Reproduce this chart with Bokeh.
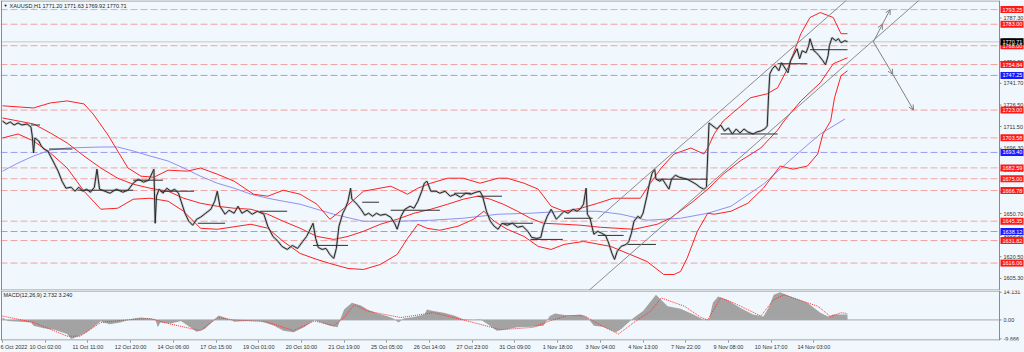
from bokeh.plotting import figure
from bokeh.models import (FixedTicker, Label, Arrow, OpenHead, ColumnDataSource, Range1d)
from bokeh.layouts import column
from bokeh.embed import file_html
from bokeh.resources import INLINE
from bokeh.core.properties import value

FONT = "Liberation Sans"
BG = "#F0F7FD"

# ---------------- data (x = hourly bar index, y = price) ----------------
price_bars = [0,3,6,9,12,15,19,22,23,24,25,28,30,32,35,39,43,46,49,53,56,59,62,65,68,71,73,75,79,83,
              88,93,97,101,105,109,113,117,118,119,121,124,127,130,133,136,138,141,144,147,150,153,157,161,164,166,168,172,175,179,
              182,185,189,193,197,202,205,209,213,216,220,224,228,232,235,237,240,242,244,247,250,253,256,258,260,263,265,267,269,270,
              274,277,280,283,286,289,292,296,300,303,305,308,311,315,318,321,324,326,328,331,335,338,342,346,350,354,358,362,366,369,
              371,374,377,380,383,386,390,394,398,402,406,409,413,416,418,421,424,426,428,431,434,437,441,444,447,449,451,452,454,457,
              460,463,466,468,471,473,475,478,482,484,486,488,491,493,495,498,500,502,504,505,508,510,512,515,517,520,523,526,529,532,
              536,539,542,544,546,549,552,555,558,561,564,567,570,573,576,580,583,586,589,591,592,593,595,597,600,602,604,607,609,611,
              614,616,618,621,623,624,627,629,631,634,636,638,639,641,644,646,648,651,653]
price_close = [1715.4,1713.3,1714.7,1712.6,1714.0,1712.6,1713.3,1711.2,1704.9,1693.0,1703.5,1701.4,1697.9,1695.8,1694.4,1687.4,1680.3,1673.3,1668.4,1669.1,
               1666.3,1669.1,1666.3,1667.7,1665.6,1669.1,1681.7,1667.7,1666.3,1664.9,1667.7,1665.6,1667.0,1671.9,1674.7,1672.6,1674.0,1681.7,1643.9,1662.8,
               1667.7,1664.9,1668.4,1666.3,1667.7,1664.9,1659.3,1650.9,1645.3,1642.5,1646.7,1648.1,1650.9,1653.7,1659.3,1666.3,1655.8,1650.2,1653.0,1650.9,
               1655.8,1650.9,1653.0,1650.2,1652.3,1650.2,1641.8,1634.7,1631.2,1627.7,1625.6,1628.4,1626.3,1631.2,1634.7,1638.3,1643.9,1633.3,1627.0,1625.6,
               1626.3,1622.1,1619.3,1626.3,1641.8,1650.9,1654.4,1659.3,1668.4,1660.7,1657.2,1653.7,1649.5,1650.9,1648.8,1650.9,1649.5,1650.2,1648.1,1643.9,
               1639.7,1648.8,1653.7,1655.8,1654.4,1659.3,1666.3,1671.9,1673.3,1666.3,1666.3,1664.9,1666.3,1662.8,1664.2,1662.1,1664.9,1664.2,1665.6,1666.3,
               1662.8,1652.3,1645.3,1641.8,1639.7,1643.9,1642.5,1643.9,1641.1,1641.8,1638.3,1634.0,1633.3,1634.0,1641.8,1648.8,1653.7,1650.2,1646.7,1649.5,
               1652.3,1650.9,1653.7,1652.3,1654.4,1657.2,1668.4,1650.2,1647.4,1636.2,1638.3,1636.9,1635.4,1631.2,1622.8,1618.6,1624.2,1627.7,1629.1,1631.2,
               1636.9,1645.3,1648.8,1647.4,1650.9,1662.8,1671.9,1678.9,1681.7,1674.7,1673.3,1674.7,1671.9,1667.7,1674.7,1677.5,1676.1,1675.4,1674.7,1673.3,
               1671.2,1669.1,1667.7,1669.1,1714.0,1711.9,1709.8,1712.6,1708.4,1710.5,1706.3,1709.8,1707.0,1709.8,1707.7,1706.3,1707.7,1708.4,1709.8,1711.9,
               1733.0,1748.4,1751.9,1754.0,1750.5,1756.1,1753.3,1749.1,1757.5,1761.0,1765.9,1758.9,1764.5,1763.1,1768.0,1772.9,1764.5,1763.1,1761.0,1757.5,
               1754.7,1761.0,1768.0,1773.6,1771.5,1772.9,1770.1,1771.5,1770.8]

seg_start = [22,36,58,101,122,151,199,240,278,300,349,367,387,408,434,460,483,506,555,599,624]
seg_end = [29,54,101,124,148,172,220,267,291,338,362,386,410,433,456,480,505,545,599,622,653]
seg_price = [1712.6,1695.8,1667.0,1674.0,1666.3,1643.9,1652.3,1628.4,1658.6,1653.0,1664.9,1662.8,
             1643.9,1632.6,1647.4,1635.4,1629.1,1674.7,1706.3,1755.4,1765.2]

bb_up_bars = [0,24,37,50,63,70,81,89,97,107,117,128,143,153,166,179,194,205,217,230,243,253,264,279,300,313,321,331,344,356,
              369,383,390,403,414,424,434,447,460,472,493,498,509,519,532,542,545,550,557,578,591,599,607,617,624,632,642,648,653]
bb_up = [1726.0,1724.5,1728.0,1729.4,1727.3,1720.3,1706.3,1694.4,1682.5,1676.8,1676.1,1681.0,1680.3,1682.5,1678.2,1673.3,1664.2,1662.8,1667.0,1664.2,
         1657.2,1646.7,1654.4,1666.3,1669.8,1664.2,1668.4,1671.9,1675.4,1675.4,1671.9,1675.4,1675.4,1671.9,1667.7,1655.8,1652.3,1654.4,1657.9,1661.4,
         1661.4,1668.4,1682.5,1692.3,1696.5,1692.3,1696.5,1706.3,1715.4,1731.6,1734.4,1738.6,1752.6,1776.4,1787.7,1791.2,1787.7,1776.4,1776.4]

bb_mid_bars = [0,24,37,50,63,76,89,101,114,128,140,153,166,179,192,205,217,230,243,256,267,279,292,305,318,331,344,356,367,377,
               387,398,408,418,434,447,462,488,506,516,532,545,557,570,586,599,604,617,632,642,653]
bb_mid = [1717.5,1713.3,1707.0,1700.0,1690.9,1682.5,1675.4,1671.2,1668.4,1666.3,1661.4,1657.9,1655.8,1654.4,1653.7,1650.2,1645.3,1640.4,1634.7,1632.6,
          1634.7,1638.3,1643.2,1646.7,1650.9,1653.7,1657.2,1660.7,1662.8,1660.7,1657.2,1652.3,1647.4,1643.9,1643.2,1642.5,1641.1,1639.7,1643.2,1647.4,
          1657.9,1667.7,1678.2,1687.4,1696.5,1709.0,1715.4,1729.4,1742.1,1755.4,1759.6]

bb_low_bars = [0,12,24,37,50,63,76,89,101,114,128,140,153,166,192,205,217,230,243,253,267,279,292,305,313,321,328,338,352,364,
               372,380,390,403,414,424,434,449,470,485,498,511,519,524,529,537,545,550,563,576,588,601,611,622,630,634,640,643,648,653]
bb_low = [1703.5,1706.3,1701.4,1693.0,1682.5,1666.3,1653.7,1654.4,1660.7,1661.4,1659.3,1652.3,1640.4,1639.7,1643.2,1640.4,1631.2,1622.8,1618.6,1615.8,
          1612.3,1611.6,1615.1,1622.1,1633.3,1643.2,1640.4,1639.0,1641.8,1646.7,1652.3,1645.3,1639.7,1634.7,1627.7,1625.6,1629.1,1631.2,1627.7,1622.1,
          1617.2,1608.1,1608.1,1610.2,1619.3,1638.3,1650.9,1650.2,1652.3,1657.9,1668.4,1683.9,1681.7,1683.9,1692.3,1706.3,1715.4,1731.6,1747.0,1750.5]

ma_bars = [0,12,24,37,50,76,89,101,114,128,140,153,166,179,192,205,217,230,243,256,269,279,305,331,356,383,408,434,460,478,
           498,524,545,563,588,614,632,651]
ma_vals = [1680.3,1686.0,1690.9,1695.1,1696.5,1697.2,1697.2,1694.4,1690.9,1687.4,1682.5,1676.8,1671.9,1668.4,1664.2,1661.4,1659.3,1657.2,1653.7,1650.2,
           1647.4,1645.3,1645.3,1646.0,1647.4,1650.2,1650.9,1652.3,1652.3,1650.2,1646.0,1647.4,1650.9,1655.8,1671.2,1692.3,1706.3,1716.8]

# trend channel (start bar, start price, end bar, end price)
chan_x0 = [460, 450]
chan_y0 = [1647.0, 1594.4]
chan_x1 = [659, 715]
chan_y1 = [1805.2, 1805.1]

# projection arrows
arrow_x0 = [673, 680, 673, 688]
arrow_y0 = [1770.7, 1783.0, 1770.7, 1748.0]
arrow_x1 = [680, 686, 688, 704]
arrow_y1 = [1783.0, 1793.3, 1748.0, 1723.0]

red_levels = [1793.25, 1783.00, 1768.00, 1754.84, 1723.00, 1703.58, 1682.59, 1675.00,
              1666.78, 1645.35, 1631.82, 1616.06]
blue_levels = [1747.25, 1693.40, 1638.12]
last_price = 1770.71

price_ticks = [1605.30, 1620.50, 1635.50, 1650.70, 1665.90, 1681.10, 1696.30, 1711.50,
               1726.50, 1741.70, 1756.90, 1772.10, 1787.30]

time_ticks = [0, 33, 66, 99, 132, 165, 198, 231, 264, 297, 330, 363, 396, 429, 462, 495, 528, 561, 594, 627]
time_labels = ["6 Oct 2022", "10 Oct 02:00", "11 Oct 11:00", "12 Oct 20:00", "14 Oct 06:00",
               "17 Oct 15:00", "19 Oct 01:00", "20 Oct 10:00", "21 Oct 19:00", "25 Oct 05:00",
               "26 Oct 14:00", "27 Oct 23:00", "31 Oct 09:00", "1 Nov 18:00", "3 Nov 04:00",
               "4 Nov 13:00", "7 Nov 22:00", "9 Nov 08:00", "10 Nov 17:00", "14 Nov 03:00"]

macd_bars = [0,4,14,22,24,32,40,50,53,55,60,65,73,76,78,83,91,101,107,114,118,120,122,130,138,145,150,156,163,167,
             174,179,189,199,210,217,225,233,241,246,253,259,261,264,270,277,282,290,297,302,306,310,318,326,328,333,341,349,356,364,
             369,375,382,390,398,410,418,423,427,437,447,452,457,464,474,478,488,495,505,514,524,534,542,546,549,553,560,570,580,588,
             592,596,601,609,622,632,638,642,653]
macd_hist = [1.2,-0.5,-1.0,-1.3,-3.0,-4.3,-5.0,-7.2,-9.7,-9.3,-8.0,-6.3,-2.2,-0.5,-1.3,-2.2,-1.3,0.7,1.2,0.7,
             0.5,-3.8,-1.3,-1.8,-0.5,-3.8,-6.0,-4.7,-0.5,2.3,0.7,-1.0,-0.5,-0.5,-3.0,-5.5,-6.3,-3.8,0.0,-1.3,
             -3.0,-3.8,0.3,5.3,8.7,7.3,5.3,3.3,2.0,0.7,-1.3,0.7,1.5,2.8,5.3,4.5,3.7,2.3,0.3,0.0,
             0.3,-2.2,-5.5,-4.7,-3.8,-3.5,-3.0,2.0,3.3,2.3,2.8,1.2,-3.0,-3.5,-6.3,-4.7,1.2,4.5,12.8,7.0,
             5.7,2.8,0.0,0.3,8.7,12.0,10.3,6.2,2.8,1.7,6.2,12.8,14.1,12.0,8.7,3.7,1.7,2.8,2.7]
sig_bars = [0,24,50,60,76,101,114,127,153,166,179,204,225,241,256,264,272,282,308,333,359,385,410,423,437,450,463,476,488,501,
            509,527,540,545,555,565,586,596,604,630,640,648,653]
sig_vals = [2.0,-1.3,-8.3,-8.3,-1.3,0.3,0.7,-1.7,-5.5,1.2,0.0,-1.0,-5.5,-0.5,-3.0,1.2,7.8,4.5,1.2,3.7,
            -0.5,-5.0,-3.8,-0.5,2.3,2.0,-3.0,-7.2,-1.3,4.5,11.2,7.0,1.2,0.0,11.2,8.7,2.0,10.3,12.8,7.0,
            1.7,3.7,3.2]
macd_ticks = [-9.666, 0.0, 14.131]
macd_tick_labels = ["-9.666", "0.00", "14.131"]

# ---------------- layout constants (pixel geometry) ----------------
PX_PER_BAR = 1.294
X0 = -2 / PX_PER_BAR                 # left edge of the canvas in bar units
X1 = (1024 - 2) / PX_PER_BAR          # right edge of the canvas
AX = (999 - 2) / PX_PER_BAR           # price-scale line
FRAME_C = "#8a8a8a"
TXT_C = "#333333"
YMIN, YMAX = 1596.9, 1799.6
MMIN, MMAX = -10.5, 15.0

xr = Range1d(X0, X1)

# ---------------- main price panel ----------------
p = figure(width=1024, height=290, x_range=xr, y_range=Range1d(YMIN, YMAX),
           output_backend="svg", toolbar_location=None, y_axis_location=None,
           x_axis_location=None, min_border_left=0, min_border_right=0,
           min_border_top=0, min_border_bottom=0, background_fill_color=BG,
           border_fill_color=BG, outline_line_color=None)
p.xgrid.grid_line_color = None
p.ygrid.grid_line_color = None

n_r, n_b = len(red_levels), len(blue_levels)
p.segment(x0=[X0] * n_r, x1=[AX] * n_r, y0=red_levels, y1=red_levels,
          line_color="#F3A3A3", line_width=1, line_dash="7 3")
p.segment(x0=[X0] * n_b, x1=[AX] * n_b, y0=blue_levels, y1=blue_levels,
          line_color="#9C9CF0", line_width=1, line_dash="7 3")
p.segment(x0=[X0], x1=[AX], y0=[last_price], y1=[last_price], line_color="#C8C8C8", line_width=1)

p.line(ma_bars, ma_vals, line_color="#9090F0", line_width=1)
p.line(bb_up_bars, bb_up, line_color="#FF2020", line_width=1)
p.line(bb_mid_bars, bb_mid, line_color="#FF2020", line_width=1)
p.line(bb_low_bars, bb_low, line_color="#FF2020", line_width=1)

p.line(price_bars, price_close, line_color="#9a9a9a", line_width=2.4, line_alpha=0.55)
p.line(price_bars, price_close, line_color="#262626", line_width=1)
p.segment(x0=seg_start, x1=seg_end, y0=seg_price, y1=seg_price, line_color="#303030", line_width=1)

p.segment(x0=chan_x0, y0=chan_y0, x1=chan_x1, y1=chan_y1, line_color="#8c8c8c", line_width=1)

arr_src = ColumnDataSource(dict(x0=arrow_x0, y0=arrow_y0, x1=arrow_x1, y1=arrow_y1))
p.add_layout(Arrow(source=arr_src, x_start="x0", y_start="y0", x_end="x1", y_end="y1",
                   line_color="#808080", line_width=1,
                   end=OpenHead(size=5, line_color="#808080", line_width=1)))

# frame lines
p.vspan(x=[X0 + 0.4, AX], line_color=FRAME_C, line_width=1)
p.segment(x0=[X0, X0], x1=[AX, AX], y0=[YMAX - 0.3, YMIN + 0.3], y1=[YMAX - 0.3, YMIN + 0.3],
          line_color=FRAME_C, line_width=1)

# price scale: ticks and labels
n_t = len(price_ticks)
p.segment(x0=[AX] * n_t, x1=[AX + 2 / PX_PER_BAR] * n_t, y0=price_ticks, y1=price_ticks,
          line_color=FRAME_C, line_width=1)
p.text(x=[AX] * n_t, y=price_ticks, text=[f"{t:.2f}" for t in price_ticks], x_offset=4,
       text_font=value(FONT), text_font_size=value("5.5px"), text_color=TXT_C,
       text_baseline="middle", text_align="left")

# coloured level boxes on the price scale
lvl_vals = red_levels + blue_levels + [last_price]
lvl_cols = ["#FF1A1A"] * n_r + ["#1A1AFF"] * n_b + ["#000000"]
n_l = len(lvl_vals)
p.rect(x=[AX + 12.5 / PX_PER_BAR] * n_l, y=lvl_vals, width=23, height=7,
       width_units="screen", height_units="screen", fill_color=lvl_cols, line_color=None)
p.text(x=[AX] * n_l, y=lvl_vals, text=[f"{v:.2f}" for v in lvl_vals], x_offset=3,
       text_font=value(FONT), text_font_size=value("5.5px"), text_color="white",
       text_baseline="middle", text_align="left")

p.add_layout(Label(x=3, y=285, x_units="screen", y_units="screen", text="\u25BC",
                   text_font=FONT, text_font_size="4px", text_baseline="middle", text_color="#000000"))
p.add_layout(Label(x=9, y=285, x_units="screen", y_units="screen",
                   text="XAUUSD,H1  1771.20 1771.63 1769.92 1770.71",
                   text_font=FONT, text_font_size="5.5px", text_baseline="middle", text_color="#222222"))

# ---------------- MACD panel ----------------
q = figure(width=1024, height=62, x_range=xr, y_range=Range1d(MMIN, MMAX),
           output_backend="svg", toolbar_location=None, y_axis_location=None,
           min_border_left=0, min_border_right=0, min_border_top=0, min_border_bottom=11,
           background_fill_color=BG, border_fill_color=BG, outline_line_color=None)
q.xgrid.grid_line_color = None
q.ygrid.grid_line_color = None

q.varea(x=macd_bars, y1=[0] * len(macd_bars), y2=macd_hist, fill_color="#a3a3a3")
q.segment(x0=[X0], x1=[AX], y0=[0], y1=[0], line_color="#a8a8a8", line_width=1)
q.line(sig_bars, sig_vals, line_color="#FF3030", line_width=1, line_dash="1 1")

q.vspan(x=[X0 + 0.4, AX], line_color=FRAME_C, line_width=1)
q.segment(x0=[X0, X0], x1=[AX, AX], y0=[MMAX - 0.25, MMIN + 0.25], y1=[MMAX - 0.25, MMIN + 0.25],
          line_color=FRAME_C, line_width=1)

n_m = len(macd_ticks)
q.segment(x0=[AX] * n_m, x1=[AX + 2 / PX_PER_BAR] * n_m, y0=macd_ticks, y1=macd_ticks,
          line_color=FRAME_C, line_width=1)
q.text(x=[AX] * n_m, y=macd_ticks, text=macd_tick_labels, x_offset=4,
       text_font=value(FONT), text_font_size=value("5.5px"), text_color=TXT_C,
       text_baseline="middle", text_align="left")

q.xaxis.ticker = FixedTicker(ticks=time_ticks)
q.xaxis.major_label_overrides = {t: s for t, s in zip(time_ticks, time_labels)}
q.xaxis.major_label_text_font = FONT
q.xaxis.major_label_text_font_size = "5.5px"
q.xaxis.major_label_text_color = TXT_C
q.xaxis.major_label_text_align = "left"
q.xaxis.major_tick_out = 2
q.xaxis.major_tick_in = 0
q.xaxis.minor_tick_out = 0
q.xaxis.minor_tick_in = 0
q.xaxis.major_label_standoff = 1
q.xaxis.axis_line_color = None
q.xaxis.major_tick_line_color = FRAME_C

q.add_layout(Label(x=3, y=46, x_units="screen", y_units="screen",
                   text="MACD(12,26,9) 2.732 3.240",
                   text_font=FONT, text_font_size="5.5px", text_baseline="middle", text_color="#222222"))

layout = column(p, q, spacing=0)
open("out.html", "w").write(file_html(layout, INLINE))
